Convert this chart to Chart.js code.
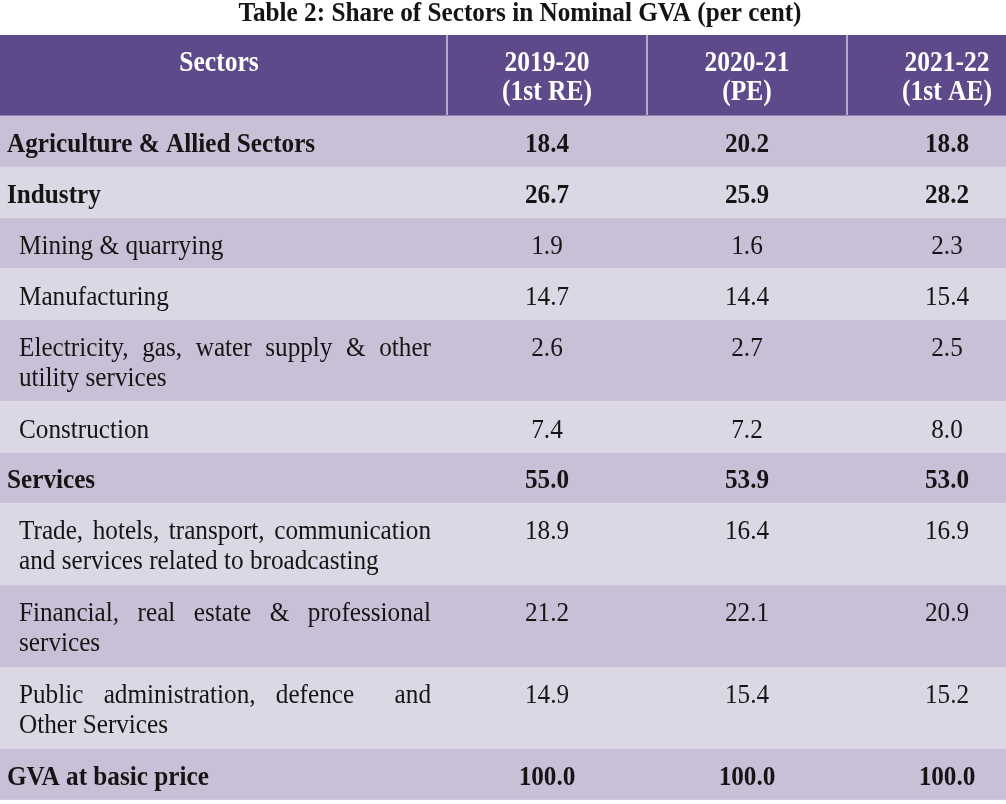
<!DOCTYPE html>
<html>
<head>
<meta charset="utf-8">
<script src="https://cdn.jsdelivr.net/npm/chart.js@4.4.1/dist/chart.umd.min.js"></script>
<style>
  html, body { margin: 0; padding: 0; background: #fff; }
  #wrap { width: 1006px; height: 804px; position: relative; }
</style>
</head>
<body>
<div id="wrap"><canvas id="tableChart"></canvas></div>
<script>
// table content
const title = 'Table 2: Share of Sectors in Nominal GVA (per cent)';
const headLabel = 'Sectors';
const years = ['2019-20', '2020-21', '2021-22'];
const estimates = ['(1st RE)', '(PE)', '(1st AE)'];
const sectors = [
  ['Agriculture & Allied Sectors'],
  ['Industry'],
  ['Mining & quarrying'],
  ['Manufacturing'],
  ['Electricity, gas, water supply & other', 'utility services'],
  ['Construction'],
  ['Services'],
  ['Trade, hotels, transport, communication', 'and services related to broadcasting'],
  ['Financial, real estate & professional', 'services'],
  ['Public administration, defence  and', 'Other Services'],
  ['GVA at basic price']
];
const isMain = [true, true, false, false, false, false, true, false, false, false, true];
const share2019 = [18.4, 26.7, 1.9, 14.7, 2.6, 7.4, 55.0, 18.9, 21.2, 14.9, 100.0];
const share2020 = [20.2, 25.9, 1.6, 14.4, 2.7, 7.2, 53.9, 16.4, 22.1, 15.4, 100.0];
const share2021 = [18.8, 28.2, 2.3, 15.4, 2.5, 8.0, 53.0, 16.9, 20.9, 15.2, 100.0];
const shares = [share2019, share2020, share2021];

// layout (in scale units, the scales span the page)
const colEdges = [0, 447, 647, 847, 1047];
const TOP = 35, HEAD_H = 81, PAD = 19.9, LINE_H = 31;
const SERIF = '"Liberation Serif", "Times New Roman", serif';

function drawText(ctx, str, x, y, align, sx) {
  let w = ctx.measureText(str).width * sx;
  let left = align === 'center' ? x - w / 2 : x;
  ctx.save();
  ctx.translate(left, y);
  ctx.scale(sx, 1);
  ctx.fillText(str, 0, 0);
  ctx.restore();
}

// spreads the words of a line between x and right (double spaces give a wider gap)
function drawJustified(ctx, str, x, right, y, sx) {
  let words = str.split(' ');
  let widths = words.map(w => ctx.measureText(w).width * sx);
  let total = widths.reduce((a, b) => a + b, 0);
  let gap = Math.max((right - x - total) / (words.length - 1), ctx.measureText(' ').width * sx);
  let pos = x;
  words.forEach((w, i) => {
    if (w) drawText(ctx, w, pos, y, 'left', sx);
    pos += widths[i] + gap;
  });
}

const tablePlugin = {
  id: 'tablePlugin',
  afterDraw(chart) {
    const ctx = chart.ctx;
    const px = v => chart.scales.x.getPixelForValue(v);
    const py = v => chart.scales.y.getPixelForValue(v);
    ctx.save();
    ctx.textBaseline = 'alphabetic';
    ctx.textAlign = 'left';

    // title
    ctx.fillStyle = '#141414';
    ctx.font = 'bold 28px ' + SERIF;
    drawText(ctx, title, px(520), py(21), 'center', 0.9);

    // header band
    ctx.fillStyle = '#5e4a8a';
    ctx.fillRect(px(colEdges[0]), py(TOP), px(colEdges[4]) - px(colEdges[0]), py(TOP + HEAD_H) - py(TOP));
    ctx.fillStyle = '#b3a9c9';
    for (let i = 1; i < 4; i++) ctx.fillRect(px(colEdges[i]) - 1, py(TOP), 2, py(TOP + HEAD_H) - py(TOP));
    ctx.fillStyle = '#8d7eae';
    ctx.fillRect(px(colEdges[0]), py(TOP + HEAD_H) - 1, px(colEdges[4]) - px(colEdges[0]), 1);

    ctx.fillStyle = '#ffffff';
    ctx.font = 'bold 29px ' + SERIF;
    drawText(ctx, headLabel, px(219), py(TOP + 36), 'center', 0.88);
    years.forEach((y, i) => {
      let cx = px((colEdges[i + 1] + colEdges[i + 2]) / 2);
      drawText(ctx, y, cx, py(TOP + 36), 'center', 0.88);
      drawText(ctx, estimates[i], cx, py(TOP + 65), 'center', 0.88);
    });

    // body rows
    let top = TOP + HEAD_H;
    sectors.forEach((lines, r) => {
      let h = PAD + LINE_H * lines.length;
      ctx.fillStyle = r % 2 === 0 ? '#c9c0d7' : '#dbd7e4';
      ctx.fillRect(px(colEdges[0]), py(top), px(colEdges[4]) - px(colEdges[0]), py(top + h) - py(top));

      ctx.fillStyle = '#151515';
      ctx.font = (isMain[r] ? 'bold ' : '') + '28px ' + SERIF;
      let x0 = isMain[r] ? 7 : 19;
      lines.forEach((ln, k) => {
        let by = py(top + 36 + k * 30);
        if (k < lines.length - 1) drawJustified(ctx, ln, px(x0), px(431), by, 0.9);
        else drawText(ctx, ln, px(x0), by, 'left', 0.9);
      });
      shares.forEach((s, c) => {
        let cx = px((colEdges[c + 1] + colEdges[c + 2]) / 2);
        drawText(ctx, s[r].toFixed(1), cx, py(top + 36), 'center', 0.9);
      });
      top += h;
    });
    ctx.restore();
  }
};

new Chart(document.getElementById('tableChart'), {
  type: 'scatter',
  data: { datasets: [] },
  options: {
    responsive: true,
    maintainAspectRatio: false,
    animation: false,
    layout: { padding: 0 },
    plugins: { legend: { display: false }, tooltip: { enabled: false } },
    scales: {
      x: { type: 'linear', min: 0, max: 1006, offset: false, display: false },
      y: { type: 'linear', min: 0, max: 804, reverse: true, offset: false, display: false }
    }
  },
  plugins: [tablePlugin]
});
</script>
</body>
</html>
